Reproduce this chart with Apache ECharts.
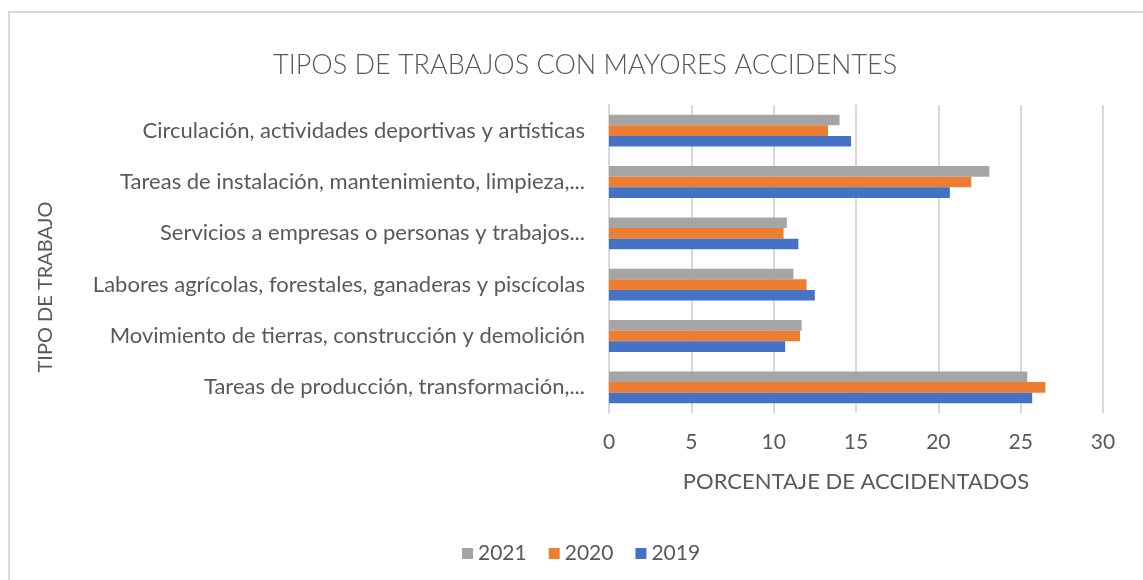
<!DOCTYPE html>
<html>
<head>
<meta charset="utf-8">
<script src="https://cdn.jsdelivr.net/npm/echarts@6/dist/echarts.min.js"></script>
<style>
    html, body { margin: 0; padding: 0; background: #fff; }
    #chart { width: 1143px; height: 580px; }
</style>
</head>
<body>
<div id="chart"></div>
<script>
// categorias de abajo hacia arriba (eje de categorias de ECharts empieza abajo)
const tiposTrabajo = [
    'Tareas de producción, transformación,...',
    'Movimiento de tierras, construcción y demolición',
    'Labores agrícolas, forestales, ganaderas y piscícolas',
    'Servicios a empresas o personas y trabajos...',
    'Tareas de instalación, mantenimiento, limpieza,...',
    'Circulación, actividades deportivas y artísticas'
];
const valores2019 = [25.7, 10.7, 12.5, 11.5, 20.7, 14.7];
const valores2020 = [26.5, 11.6, 12.0, 10.6, 22.0, 13.3];
const valores2021 = [25.4, 11.7, 11.2, 10.8, 23.1, 14.0];
const legendOrder = ['2021', '2020', '2019'];

const gris = '#595959';
const font = 'Lato';

const chart = echarts.init(document.getElementById('chart'));
chart.setOption({
    animation: false,
    title: {
        text: 'TIPOS DE TRABAJOS CON MAYORES ACCIDENTES',
        left: 268,
        top: 47,
        textStyle: { fontFamily: font, fontWeight: 300, fontSize: 27, color: gris }
    },
    graphic: [{
        type: 'rect',
        shape: { x: 9, y: 12, width: 1200, height: 700 },
        style: { fill: 'none', stroke: '#d9d9d9', lineWidth: 2 },
        silent: true
    }],
    legend: {
        data: legendOrder,
        bottom: 11,
        left: 457,
        icon: 'rect',
        itemWidth: 11,
        itemHeight: 11,
        itemGap: 22,
        textStyle: { fontFamily: font, fontSize: 21, color: gris }
    },
    grid: { left: 609, right: 40, top: 105, bottom: 167 },
    xAxis: {
        type: 'value',
        min: 0,
        max: 30,
        interval: 5,
        name: 'PORCENTAJE DE ACCIDENTADOS',
        nameLocation: 'middle',
        nameGap: 58,
        nameTextStyle: { fontFamily: font, fontSize: 22, color: gris },
        axisLine: { show: false },
        axisTick: { show: false },
        axisLabel: { fontFamily: font, fontSize: 21, color: gris, margin: 19 },
        splitLine: { lineStyle: { color: '#d9d9d9', width: 2 } }
    },
    yAxis: {
        type: 'category',
        data: tiposTrabajo,
        name: 'TIPO DE TRABAJO',
        nameLocation: 'middle',
        nameRotate: 90,
        nameGap: 553,
        nameTextStyle: { fontFamily: font, fontSize: 20, color: gris, padding: [0, 56, 0, 0] },
        axisLine: { show: true, lineStyle: { color: '#d9d9d9', width: 2 } },
        axisTick: { show: false },
        axisLabel: { fontFamily: font, fontSize: 22, color: gris, margin: 24 },
        splitLine: { show: false }
    },
    // ECharts pone la primera serie arriba dentro de cada grupo horizontal
    series: [
        { name: '2021', type: 'bar', data: valores2021, itemStyle: { color: '#a5a5a5' }, barGap: '0%', barCategoryGap: '38%' },
        { name: '2020', type: 'bar', data: valores2020, itemStyle: { color: '#ed7d31' }, barGap: '0%', barCategoryGap: '38%' },
        { name: '2019', type: 'bar', data: valores2019, itemStyle: { color: '#4472c4' }, barGap: '0%', barCategoryGap: '38%' }
    ]
});
</script>
</body>
</html>
